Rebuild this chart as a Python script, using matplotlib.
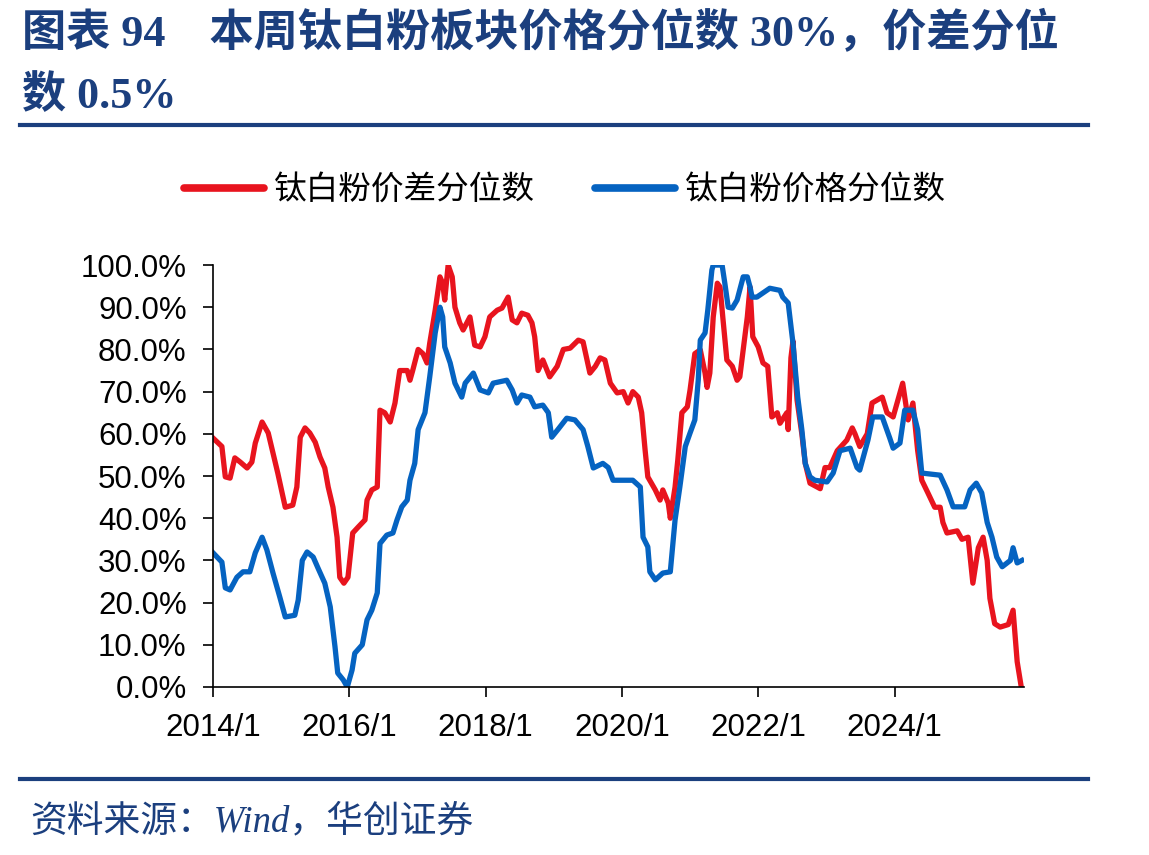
import matplotlib
matplotlib.use("Agg")
import matplotlib.pyplot as plt
from matplotlib.lines import Line2D

# Spread percentile (red) - decimal years and values in %
red_t = [2014.00, 2014.13, 2014.18, 2014.25, 2014.32, 2014.40, 2014.50, 2014.57, 2014.62, 2014.72,
         2014.81, 2014.88, 2014.95, 2015.06, 2015.17, 2015.23, 2015.28, 2015.35, 2015.42, 2015.50,
         2015.57, 2015.64, 2015.69, 2015.76, 2015.82, 2015.86, 2015.92, 2015.98, 2016.05, 2016.13,
         2016.23, 2016.26, 2016.33, 2016.41, 2016.45, 2016.52, 2016.60, 2016.67, 2016.74, 2016.85,
         2016.89, 2016.93, 2017.01, 2017.08, 2017.14, 2017.18, 2017.26, 2017.33, 2017.37, 2017.40,
         2017.45, 2017.51, 2017.55, 2017.62, 2017.67, 2017.77, 2017.84, 2017.92, 2017.99, 2018.06,
         2018.17, 2018.24, 2018.33, 2018.39, 2018.46, 2018.53, 2018.62, 2018.68, 2018.72, 2018.77,
         2018.84, 2018.94, 2019.05, 2019.14, 2019.24, 2019.36, 2019.43, 2019.53, 2019.61, 2019.68,
         2019.75, 2019.83, 2019.93, 2020.02, 2020.09, 2020.16, 2020.24, 2020.29, 2020.34, 2020.38,
         2020.49, 2020.56, 2020.60, 2020.68, 2020.71, 2020.78, 2020.82, 2020.88, 2020.96, 2021.00,
         2021.07, 2021.15, 2021.22, 2021.25, 2021.29, 2021.34, 2021.40, 2021.44, 2021.48, 2021.54,
         2021.62, 2021.69, 2021.73, 2021.78, 2021.84, 2021.88, 2021.92, 2022.00, 2022.07, 2022.14,
         2022.20, 2022.28, 2022.32, 2022.42, 2022.44, 2022.48, 2022.51, 2022.57, 2022.64, 2022.69,
         2022.76, 2022.91, 2022.98, 2023.05, 2023.16, 2023.30, 2023.38, 2023.42, 2023.49, 2023.60,
         2023.67, 2023.82, 2023.89, 2023.98, 2024.12, 2024.20, 2024.27, 2024.34, 2024.40, 2024.49,
         2024.59, 2024.67, 2024.71, 2024.77, 2024.92, 2024.99, 2025.08, 2025.15, 2025.23, 2025.30,
         2025.36, 2025.40, 2025.47, 2025.55, 2025.67, 2025.74, 2025.80, 2025.86]
red_v = [59.0, 57.0, 49.8, 49.5, 54.3, 53.3, 51.9, 53.3, 57.8, 62.8,
         60.2, 55.5, 50.7, 42.6, 43.1, 47.4, 59.2, 61.4, 60.2, 58.0,
         54.5, 51.9, 47.4, 42.6, 35.5, 26.0, 24.6, 26.0, 36.5, 37.9,
         39.6, 44.3, 46.7, 47.4, 65.6, 65.0, 62.8, 67.3, 75.0, 75.0,
         72.7, 75.0, 80.0, 79.0, 76.8, 81.5, 89.3, 97.2, 95.7, 91.7,
         100.0, 97.2, 90.0, 86.3, 84.6, 87.7, 81.0, 80.6, 83.0, 87.7,
         89.3, 89.8, 92.4, 87.0, 86.3, 88.6, 88.1, 86.3, 83.0, 75.0,
         77.5, 73.5, 76.0, 80.0, 80.3, 82.2, 81.8, 74.4, 76.0, 78.0,
         77.5, 72.0, 69.7, 70.0, 67.3, 70.0, 68.7, 65.0, 56.2, 49.8,
         46.7, 44.3, 46.7, 43.6, 40.0, 47.4, 53.8, 65.0, 66.4, 70.4,
         79.0, 79.9, 74.4, 71.0, 74.4, 87.7, 95.7, 94.8, 87.7, 77.5,
         76.0, 72.7, 73.5, 80.0, 87.7, 94.8, 83.0, 80.6, 76.8, 76.0,
         64.0, 65.0, 62.5, 65.0, 61.0, 78.0, 82.0, 68.0, 60.0, 53.0,
         48.3, 47.0, 52.0, 52.0, 56.0, 58.5, 61.4, 60.0, 57.0, 60.0,
         67.3, 68.7, 65.0, 64.0, 72.0, 63.3, 67.3, 56.0, 49.0, 46.0,
         42.6, 42.6, 39.0, 36.5, 37.0, 35.0, 35.5, 24.6, 33.0, 35.5,
         30.0, 21.0, 15.0, 14.2, 14.8, 18.2, 6.0, 0.0]

# Price percentile (blue)
blue_t = [2014.00, 2014.13, 2014.18, 2014.25, 2014.35, 2014.44, 2014.54, 2014.62, 2014.72, 2014.79,
          2014.88, 2014.98, 2015.06, 2015.20, 2015.25, 2015.31, 2015.38, 2015.47, 2015.54, 2015.64,
          2015.72, 2015.79, 2015.83, 2015.91, 2015.97, 2016.04, 2016.08, 2016.19, 2016.26, 2016.33,
          2016.41, 2016.45, 2016.55, 2016.64, 2016.70, 2016.77, 2016.85, 2016.89, 2016.96, 2017.01,
          2017.11, 2017.18, 2017.26, 2017.33, 2017.37, 2017.40, 2017.48, 2017.55, 2017.65, 2017.70,
          2017.82, 2017.92, 2018.04, 2018.11, 2018.31, 2018.39, 2018.46, 2018.53, 2018.65, 2018.72,
          2018.84, 2018.92, 2018.97, 2019.06, 2019.19, 2019.31, 2019.43, 2019.50, 2019.58, 2019.72,
          2019.80, 2019.87, 2020.16, 2020.27, 2020.31, 2020.38, 2020.41, 2020.49, 2020.60, 2020.71,
          2020.78, 2020.85, 2020.93, 2021.00, 2021.07, 2021.12, 2021.15, 2021.22, 2021.26, 2021.32,
          2021.34, 2021.47, 2021.51, 2021.56, 2021.62, 2021.69, 2021.78, 2021.84, 2021.88, 2021.91,
          2021.98, 2022.07, 2022.17, 2022.32, 2022.36, 2022.44, 2022.51, 2022.58, 2022.64, 2022.69,
          2022.76, 2022.83, 2023.01, 2023.10, 2023.20, 2023.35, 2023.45, 2023.49, 2023.61, 2023.68,
          2023.82, 2023.93, 2023.98, 2024.08, 2024.15, 2024.27, 2024.34, 2024.40, 2024.67, 2024.77,
          2024.86, 2025.03, 2025.11, 2025.20, 2025.28, 2025.36, 2025.43, 2025.50, 2025.58, 2025.70,
          2025.74, 2025.80, 2025.87]
blue_v = [31.8, 29.6, 23.5, 23.0, 26.0, 27.3, 27.3, 31.8, 35.5, 32.5,
          27.0, 21.3, 16.6, 17.0, 20.6, 30.0, 32.0, 30.8, 28.2, 24.6,
          19.0, 9.5, 3.3, 1.7, 0.0, 4.0, 8.0, 10.0, 15.9, 18.2,
          22.3, 34.0, 36.0, 36.5, 39.6, 42.7, 44.3, 49.0, 53.0, 61.0,
          65.0, 73.5, 83.9, 90.0, 87.7, 80.6, 76.8, 72.0, 68.7, 72.0,
          74.4, 70.4, 69.7, 72.0, 72.7, 70.4, 67.3, 69.2, 68.7, 66.4,
          66.8, 65.0, 59.2, 61.0, 63.7, 63.3, 61.0, 57.0, 51.9, 53.0,
          52.0, 49.0, 49.0, 47.4, 35.5, 33.2, 27.3, 25.4, 27.0, 27.3,
          39.6, 47.4, 57.0, 60.2, 63.3, 72.7, 82.2, 83.9, 89.3, 98.8,
          100.0, 100.0, 95.7, 90.0, 89.8, 91.7, 97.2, 97.2, 94.8, 92.4,
          92.4, 93.4, 94.5, 94.0, 92.4, 91.0, 81.5, 68.7, 61.0, 53.0,
          49.8, 49.0, 48.6, 50.7, 56.0, 56.6, 52.0, 51.4, 58.5, 64.0,
          64.0, 59.0, 56.6, 57.8, 65.6, 65.6, 61.0, 50.7, 50.2, 46.7,
          42.7, 42.7, 46.7, 48.3, 46.0, 39.0, 35.5, 30.8, 28.5, 30.0,
          33.0, 29.4, 30.0]

year_ticks = [2014, 2016, 2018, 2020, 2022, 2024]
year_labels = ["2014/1", "2016/1", "2018/1", "2020/1", "2022/1", "2024/1"]
pct_ticks = [0, 10, 20, 30, 40, 50, 60, 70, 80, 90, 100]

navy = "#1B3F7E"
red = "#E8141E"
blue = "#0563C1"

plt.rcParams['font.family'] = ['Liberation Sans', 'Noto Sans CJK SC']

fig = plt.figure(figsize=(11.49, 8.55), dpi=100)
ax = fig.add_axes([0.1854, 0.1965, 0.7058, 0.4935])

ax.plot(red_t, red_v, color=red, lw=3.8, solid_joinstyle='round', label="钛白粉价差分位数")
ax.plot(blue_t, blue_v, color=blue, lw=3.8, solid_joinstyle='round', label="钛白粉价格分位数")

ax.set_xlim(2014, 2025.9)
ax.set_ylim(0, 100)
ax.set_xticks(year_ticks)
ax.set_xticklabels(year_labels)
ax.set_yticks(pct_ticks)
ax.set_yticklabels([f"{v:.1f}%" for v in pct_ticks])
ax.tick_params(axis='both', direction='out', length=7, width=1.2, labelsize=22.5, colors='black')
ax.tick_params(axis='y', pad=12)
ax.tick_params(axis='x', pad=12)
for side in ['top', 'right']:
    ax.spines[side].set_visible(False)
for side in ['left', 'bottom']:
    ax.spines[side].set_linewidth(1.2)

# Legend above plot
handles = [Line2D([], [], color=red, lw=5.5, solid_capstyle='round'),
           Line2D([], [], color=blue, lw=5.5, solid_capstyle='round')]
fig.legend(handles, ["钛白粉价差分位数", "钛白粉价格分位数"], loc='center',
           bbox_to_anchor=(565 / 1149, 1 - 190 / 855), ncol=2, frameon=False,
           prop={'family': ['Noto Sans CJK SC'], 'size': 23.5},
           handlelength=2.45, handletextpad=0.3, columnspacing=1.85)

# Title
title_font = ['Liberation Serif', 'Noto Sans CJK SC']
fig.text(22 / 1149, 1 - 32 / 855, "图表 94    本周钛白粉板块价格分位数 30%，价差分位",
         family=title_font, weight='bold', size=31.8, color=navy, va='center', ha='left')
fig.text(22 / 1149, 1 - 96 / 855, "数 0.5%",
         family=title_font, weight='bold', size=31.8, color=navy, va='center', ha='left')

# Rules
fig.add_artist(Line2D([20 / 1149, 1088 / 1149], [1 - 125 / 855] * 2, color=navy, lw=3))
fig.add_artist(Line2D([20 / 1149, 1088 / 1149], [1 - 779 / 855] * 2, color=navy, lw=3))

# Source
fig.text(30 / 1149, 1 - 822 / 855, "资料来源：Wind，华创证券",
         family=['Liberation Serif', 'Noto Sans CJK SC'], style='italic', size=26.5,
         color=navy, va='center', ha='left')

fig.savefig("out.png", dpi=100)
